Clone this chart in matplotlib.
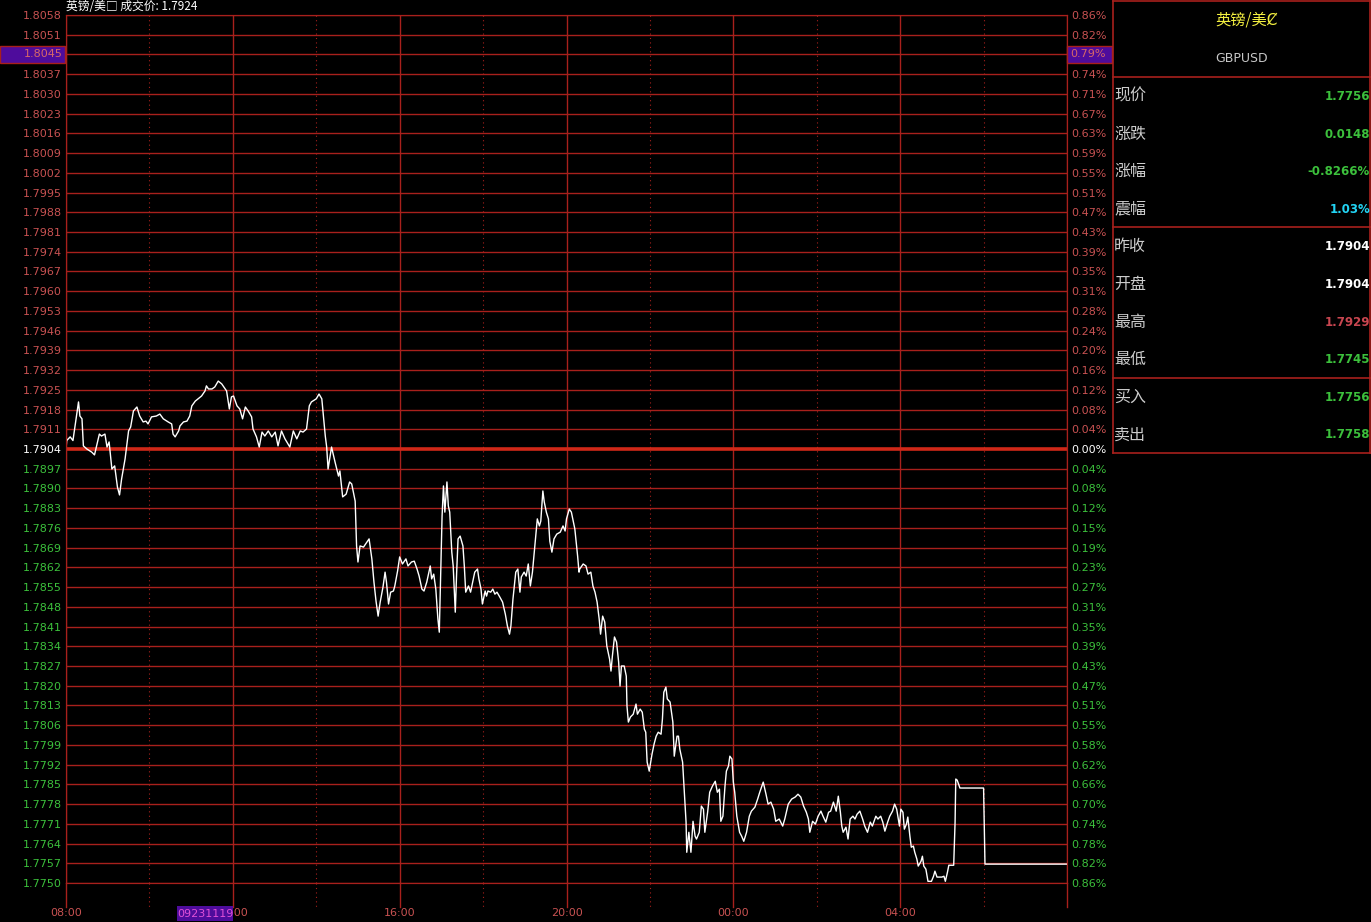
import numpy as np
import matplotlib.pyplot as plt
from matplotlib.patches import Rectangle
from matplotlib.lines import Line2D

# --- data --------------------------------------------------------------------
prev_close = 1.7904

# y axis labels, top to bottom
price_labels = ['1.8058', '1.8051', '1.8045', '1.8037', '1.8030', '1.8023', '1.8016',
                '1.8009', '1.8002', '1.7995', '1.7988', '1.7981', '1.7974', '1.7967',
                '1.7960', '1.7953', '1.7946', '1.7939', '1.7932', '1.7925', '1.7918',
                '1.7911', '1.7904', '1.7897', '1.7890', '1.7883', '1.7876', '1.7869',
                '1.7862', '1.7855', '1.7848', '1.7841', '1.7834', '1.7827', '1.7820',
                '1.7813', '1.7806', '1.7799', '1.7792', '1.7785', '1.7778', '1.7771',
                '1.7764', '1.7757', '1.7750']
pct_labels = ['0.86%', '0.82%', '0.79%', '0.74%', '0.71%', '0.67%', '0.63%', '0.59%',
              '0.55%', '0.51%', '0.47%', '0.43%', '0.39%', '0.35%', '0.31%', '0.28%',
              '0.24%', '0.20%', '0.16%', '0.12%', '0.08%', '0.04%', '0.00%', '0.04%',
              '0.08%', '0.12%', '0.15%', '0.19%', '0.23%', '0.27%', '0.31%', '0.35%',
              '0.39%', '0.43%', '0.47%', '0.51%', '0.55%', '0.58%', '0.62%', '0.66%',
              '0.70%', '0.74%', '0.78%', '0.82%', '0.86%']
cursor_price = '1.8045'
cursor_pct = '0.79%'
cursor_time = '09231119'

# x axis: minutes after 08:00
time_ticks = [0, 240, 480, 720, 960, 1200]
time_labels = ['08:00', '12:00', '16:00', '20:00', '00:00', '04:00']
session_minutes = 1440

minutes = [0, 1, 6, 10, 13, 18, 20, 23, 25, 30, 37, 41, 44, 48, 51, 56, 59, 62, 66, 70, 74,
           77, 80, 85, 90, 93, 97, 102, 106, 111, 115, 118, 123, 130, 135, 140, 147, 152,
           154, 157, 162, 164, 169, 174, 178, 181, 186, 190, 195, 200, 202, 205, 210, 214,
           219, 224, 227, 231, 235, 238, 241, 246, 250, 254, 258, 262, 267, 269, 274, 278,
           282, 286, 291, 296, 301, 305, 310, 315, 322, 327, 332, 337, 341, 346, 350, 353,
           360, 364, 368, 373, 375, 377, 382, 387, 392, 394, 398, 403, 408, 411, 416, 418,
           420, 423, 428, 433, 436, 440, 443, 446, 449, 452, 456, 459, 461, 464, 467, 471,
           473, 477, 480, 484, 489, 492, 497, 501, 505, 508, 512, 515, 519, 524, 526, 529,
           532, 535, 537, 539, 541, 543, 545, 548, 550, 552, 555, 557, 560, 562, 564, 567,
           571, 573, 575, 579, 582, 585, 588, 592, 594, 597, 599, 603, 605, 607, 611, 614,
           617, 620, 624, 628, 632, 635, 638, 640, 643, 645, 647, 650, 653, 655, 659, 662,
           665, 668, 671, 675, 678, 681, 683, 686, 688, 691, 694, 696, 699, 702, 706, 711,
           715, 718, 720, 724, 727, 732, 736, 738, 739, 744, 748, 751, 755, 758, 761, 764,
           767, 769, 772, 775, 778, 782, 784, 786, 789, 792, 795, 797, 799, 803, 806, 807,
           809, 812, 816, 820, 822, 826, 829, 832, 834, 836, 839, 843, 846, 849, 852, 856,
           858, 860, 863, 865, 869, 873, 875, 879, 881, 883, 887, 889, 892, 893, 896, 899,
           902, 905, 907, 911, 914, 917, 919, 923, 926, 930, 934, 937, 940, 942, 945, 948,
           950, 953, 955, 958, 960, 962, 965, 969, 972, 975, 979, 983, 986, 991, 995, 998,
           1003, 1007, 1010, 1014, 1018, 1021, 1026, 1031, 1034, 1039, 1044, 1049, 1053,
           1057, 1061, 1065, 1068, 1070, 1074, 1078, 1082, 1086, 1089, 1093, 1097, 1100,
           1104, 1108, 1111, 1114, 1116, 1118, 1122, 1125, 1128, 1132, 1135, 1138, 1142,
           1146, 1149, 1153, 1157, 1160, 1165, 1168, 1172, 1175, 1178, 1182, 1185, 1189,
           1192, 1195, 1199, 1201, 1204, 1206, 1209, 1211, 1214, 1216, 1219, 1221, 1224,
           1226, 1230, 1232, 1234, 1237, 1240, 1245, 1248, 1250, 1253, 1260, 1263, 1265,
           1268, 1270, 1277, 1279, 1280, 1282, 1286, 1320, 1321, 1322, 1440]
prices = [1.79040, 1.79070, 1.79083, 1.79070, 1.79122, 1.79207, 1.79157, 1.79147, 1.79051,
          1.79040, 1.79029, 1.79019, 1.79051, 1.79093, 1.79086, 1.79093, 1.79047, 1.79065,
          1.78969, 1.78980, 1.78905, 1.78877, 1.78934, 1.79005, 1.79104, 1.79118, 1.79175,
          1.79189, 1.79157, 1.79136, 1.79139, 1.79129, 1.79154, 1.79157, 1.79164, 1.79147,
          1.79136, 1.79129, 1.79093, 1.79083, 1.79104, 1.79122, 1.79136, 1.79139, 1.79157,
          1.79193, 1.79210, 1.79218, 1.79228, 1.79246, 1.79264, 1.79253, 1.79253, 1.79260,
          1.79281, 1.79271, 1.79260, 1.79246, 1.79182, 1.79225, 1.79228, 1.79193, 1.79182,
          1.79147, 1.79189, 1.79175, 1.79154, 1.79111, 1.79083, 1.79047, 1.79100, 1.79086,
          1.79104, 1.79083, 1.79100, 1.79051, 1.79104, 1.79076, 1.79047, 1.79104, 1.79076,
          1.79104, 1.79100, 1.79111, 1.79193, 1.79207, 1.79218, 1.79235, 1.79218, 1.79086,
          1.79047, 1.78969, 1.79047, 1.78994, 1.78944, 1.78962, 1.78870, 1.78880, 1.78923,
          1.78916, 1.78855, 1.78696, 1.78639, 1.78696, 1.78692, 1.78710, 1.78721, 1.78650,
          1.78568, 1.78500, 1.78447, 1.78497, 1.78550, 1.78603, 1.78568, 1.78490, 1.78532,
          1.78536, 1.78554, 1.78607, 1.78657, 1.78632, 1.78650, 1.78625, 1.78639, 1.78642,
          1.78614, 1.78589, 1.78543, 1.78536, 1.78568, 1.78625, 1.78579, 1.78596, 1.78543,
          1.78437, 1.78390, 1.78603, 1.78802, 1.78909, 1.78816, 1.78923, 1.78838, 1.78816,
          1.78674, 1.78625, 1.78461, 1.78603, 1.78721, 1.78731, 1.78696, 1.78625, 1.78532,
          1.78554, 1.78532, 1.78568, 1.78603, 1.78614, 1.78579, 1.78543, 1.78490, 1.78536,
          1.78518, 1.78536, 1.78532, 1.78543, 1.78525, 1.78532, 1.78515, 1.78497, 1.78454,
          1.78412, 1.78383, 1.78412, 1.78508, 1.78554, 1.78603, 1.78614, 1.78532, 1.78586,
          1.78603, 1.78589, 1.78632, 1.78554, 1.78603, 1.78710, 1.78792, 1.78767, 1.78784,
          1.78891, 1.78852, 1.78816, 1.78792, 1.78713, 1.78674, 1.78721, 1.78738, 1.78745,
          1.78767, 1.78749, 1.78792, 1.78827, 1.78816, 1.78756, 1.78660, 1.78603, 1.78614,
          1.78632, 1.78625, 1.78596, 1.78603, 1.78554, 1.78532, 1.78497, 1.78437, 1.78383,
          1.78447, 1.78426, 1.78341, 1.78294, 1.78252, 1.78305, 1.78373, 1.78355, 1.78284,
          1.78199, 1.78270, 1.78270, 1.78234, 1.78128, 1.78071, 1.78089, 1.78099, 1.78135,
          1.78099, 1.78117, 1.78106, 1.78046, 1.78035, 1.77929, 1.77897, 1.77957, 1.77993,
          1.78021, 1.78035, 1.78028, 1.78082, 1.78177, 1.78195, 1.78153, 1.78142, 1.78071,
          1.77950, 1.78021, 1.78021, 1.77975, 1.77929, 1.77844, 1.77716, 1.77609, 1.77680,
          1.77609, 1.77719, 1.77666, 1.77656, 1.77680, 1.77773, 1.77762, 1.77680, 1.77751,
          1.77822, 1.77844, 1.77861, 1.77822, 1.77833, 1.77719, 1.77737, 1.77844, 1.77897,
          1.77915, 1.77950, 1.77940, 1.77858, 1.77822, 1.77737, 1.77680, 1.77666, 1.77648,
          1.77680, 1.77737, 1.77755, 1.77769, 1.77798, 1.77822, 1.77858, 1.77815, 1.77780,
          1.77787, 1.77762, 1.77719, 1.77727, 1.77702, 1.77727, 1.77780, 1.77798, 1.77805,
          1.77815, 1.77805, 1.77773, 1.77751, 1.77727, 1.77680, 1.77719, 1.77709, 1.77737,
          1.77755, 1.77737, 1.77716, 1.77751, 1.77755, 1.77787, 1.77755, 1.77808, 1.77751,
          1.77702, 1.77680, 1.77698, 1.77656, 1.77727, 1.77737, 1.77727, 1.77744, 1.77755,
          1.77727, 1.77702, 1.77680, 1.77716, 1.77702, 1.77737, 1.77727, 1.77737, 1.77716,
          1.77684, 1.77716, 1.77737, 1.77755, 1.77780, 1.77762, 1.77702, 1.77762, 1.77751,
          1.77691, 1.77709, 1.77734, 1.77666, 1.77627, 1.77631, 1.77609, 1.77585, 1.77560,
          1.77577, 1.77595, 1.77560, 1.77549, 1.77506, 1.77506, 1.77524, 1.77542, 1.77521,
          1.77521, 1.77524, 1.77506, 1.77538, 1.77563, 1.77563, 1.77716, 1.77869, 1.77865,
          1.77837, 1.77837, 1.77702, 1.77567, 1.77567]

# quote panel
panel_title = '英镑/美Ȼ'
panel_code = 'GBPUSD'
panel_labels = ['现价', '涨跌', '涨幅', '震幅', '昨收', '开盘', '最高', '最低', '买入', '卖出']
panel_values = ['1.7756', '0.0148', '-0.8266%', '1.03%', '1.7904', '1.7904', '1.7929',
                '1.7745', '1.7756', '1.7758']
header_text = '英镑/美□ 成交价: 1.7924'

# --- style ---------------------------------------------------------------------
GRID = '#a8201c'
RED_TXT = '#c85252'
GREEN_TXT = '#3cc03c'
PURPLE = '#4e0c9c'
cjk = ['Noto Sans CJK SC', 'DejaVu Sans']
panel_colors = [GREEN_TXT, GREEN_TXT, GREEN_TXT, '#22d4f4', 'white', 'white',
                '#c84650', GREEN_TXT, GREEN_TXT, GREEN_TXT]

W, H = 1371, 922
fig = plt.figure(figsize=(W / 100, H / 100), dpi=100, facecolor='black')


def fx(px):
    return px / W


def fy(py):
    return 1 - py / H


ax = fig.add_axes([fx(66), fy(883), fx(1067) - fx(66), fy(15) - fy(883)])
ax.set_facecolor('black')
levels = np.linspace(float(price_labels[0]), float(price_labels[-1]), len(price_labels))
ax.set_ylim(levels[-1], levels[0])
ax.set_xlim(0, session_minutes)

for lv in levels:
    center = abs(lv - prev_close) < 1e-6
    ax.axhline(lv, color='#d02818' if center else GRID, lw=2.6 if center else 1.0,
               zorder=1 if not center else 2)

xt = ax.get_xaxis_transform()
for m in range(0, session_minutes + 1, 240):
    ax.axvline(m, color=GRID, lw=1.0, zorder=1)
    ax.plot([m, m], [0, -24 / 868], color=GRID, lw=1.0, transform=xt, clip_on=False)
for m in range(120, session_minutes, 240):
    ax.axvline(m, color=GRID, lw=0.8, ls=(0, (1, 3)), zorder=1)
    ax.plot([m, m], [0, -24 / 868], color=GRID, lw=0.8, ls=(0, (1, 3)),
            transform=xt, clip_on=False)

ax.plot(minutes, prices, color='white', lw=1.0, zorder=3, antialiased=True)

for s in ax.spines.values():
    s.set_color(GRID)

# left price labels
n_half = len(price_labels) // 2
lab_colors = [RED_TXT] * n_half + ['white'] + [GREEN_TXT] * n_half
ax.set_yticks(levels)
ax.set_yticklabels(price_labels)
ax.tick_params(axis='y', length=0, pad=3, labelsize=8)
for lbl, c in zip(ax.get_yticklabels(), lab_colors):
    lbl.set_color(c)

ax.set_xticks(time_ticks)
ax.set_xticklabels(time_labels)
ax.tick_params(axis='x', length=0, pad=18, labelsize=8, labelcolor=RED_TXT)

ax2 = ax.twinx()
ax2.set_ylim(ax.get_ylim())
ax2.set_yticks(levels)
ax2.set_yticklabels(pct_labels)
ax2.tick_params(axis='y', length=0, pad=3, labelsize=8)
for lbl, c in zip(ax2.get_yticklabels(), lab_colors):
    lbl.set_color(c)
for s in ax2.spines.values():
    s.set_color(GRID)

# cursor boxes
cy = 1 - (levels[2] - levels[-1]) / (levels[0] - levels[-1])
cy_px = 15 + (1 - ((levels[2] - levels[-1]) / (levels[0] - levels[-1]))) * 868
fig.patches.append(Rectangle((0, fy(cy_px + 8.5)), fx(65), 17 / H, transform=fig.transFigure,
                             facecolor=PURPLE, edgecolor=GRID, lw=1, zorder=5))
fig.text(fx(63), fy(cy_px), cursor_price, ha='right', va='center', fontsize=8,
         color='#d86868', zorder=6)
fig.patches.append(Rectangle((fx(1067), fy(cy_px + 8.5)), fx(45), 17 / H,
                             transform=fig.transFigure, facecolor=PURPLE, edgecolor=GRID,
                             lw=1, zorder=5))
fig.text(fx(1070), fy(cy_px), cursor_pct, ha='left', va='center', fontsize=8,
         color='#d86868', zorder=6)
fig.patches.append(Rectangle((fx(177), fy(921)), fx(56), 15 / H, transform=fig.transFigure,
                             facecolor=PURPLE, edgecolor='none', zorder=5))
fig.text(fx(205), fy(913.5), cursor_time, ha='center', va='center', fontsize=8,
         color='#e050d8', zorder=6)

fig.text(fx(66), fy(7), header_text, ha='left', va='center', fontsize=8.5, color='white',
         family=cjk)

# quote panel
for xs, ys in [([1113, 1113], [0, 453]), ([1369.5, 1369.5], [0, 453]),
               ([1113, 1371], [1, 1]), ([1113, 1371], [77, 77]),
               ([1113, 1371], [227, 227]), ([1113, 1371], [378, 378]),
               ([1113, 1371], [453, 453])]:
    fig.lines.append(Line2D([fx(v) for v in xs], [fy(v) for v in ys], color=GRID, lw=1.2,
                            transform=fig.transFigure))

fig.text(fx(1247), fy(20), panel_title, ha='center', va='center', fontsize=11,
         color='#f4f040', family=cjk)
fig.text(fx(1242), fy(58), panel_code, ha='center', va='center', fontsize=9,
         color='#c8c8c8')
for i, (lab, val, col) in enumerate(zip(panel_labels, panel_values, panel_colors)):
    y = 96.5 + i * 37.6
    fig.text(fx(1114), fy(y), lab, ha='left', va='center', fontsize=11.5, color='#cccccc',
             family=cjk)
    fig.text(fx(1370), fy(y), val, ha='right', va='center', fontsize=8.5, color=col,
             fontweight='bold')

fig.savefig('out.png', dpi=100, facecolor='black')
